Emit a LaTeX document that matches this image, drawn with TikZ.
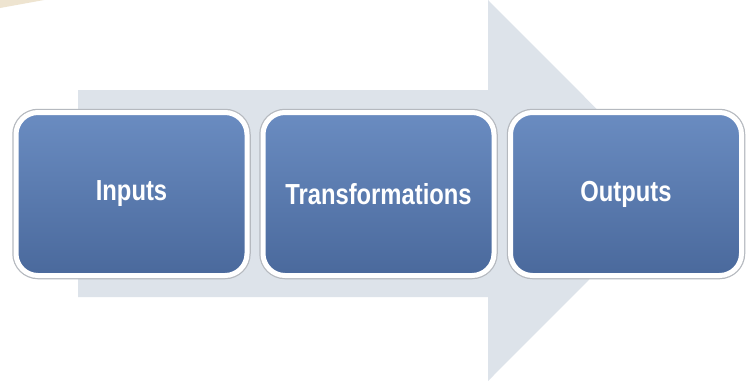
\documentclass[tikz,border=0pt]{standalone}
\usepackage{fontspec}
\newfontfamily\labelfont[FakeStretch=0.82]{Liberation Sans}
\definecolor{arrowgray}{HTML}{DDE3EA}
\definecolor{beige}{HTML}{EEE4D0}
\definecolor{boxtop}{HTML}{6A8CC1}
\definecolor{boxbot}{HTML}{4A699C}
\definecolor{rimgray}{HTML}{B5B9BF}
\begin{document}
\begin{tikzpicture}[x=1pt,y=-1pt,
  stagebox/.style={rectangle, rounded corners=22pt, minimum width=231pt, minimum height=163pt,
    top color=boxtop, bottom color=boxbot, draw=white, line width=5pt,
    preaction={draw=rimgray, line width=7.5pt},
    text=white, font={\labelfont\bfseries\fontsize{29}{34}\selectfont}}]
\useasboundingbox (0,0) rectangle (752,381);
\fill[white] (0,0) rectangle (752,381);
\fill[beige] (0,0) -- (44,0) -- (0,8) -- cycle;
\fill[arrowgray] (78,90) -- (488,90) -- (488,0) -- (678,190.5) -- (488,381) -- (488,297) -- (78,297) -- cycle;
\node[stagebox] (in) at (131.5,194) {Inputs};
\node[stagebox] (tr) at (378.5,194) {Transformations};
\node[stagebox] (out) at (626,194) {Outputs};
\end{tikzpicture}
\end{document}
